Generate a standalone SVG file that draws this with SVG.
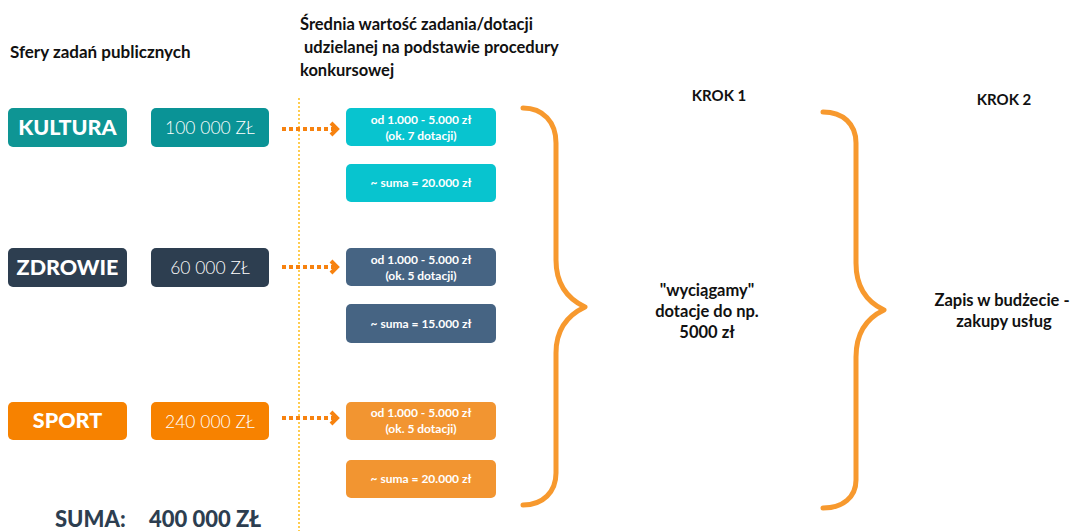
<svg xmlns="http://www.w3.org/2000/svg" width="1076" height="531" viewBox="0 0 1076 531">
<defs>
<style>
.hdr{font-family:"Lato","Liberation Sans",sans-serif;font-weight:700;fill:#111;}
.cat{font-family:"Lato","Liberation Sans",sans-serif;font-weight:900;font-size:21.5px;fill:#fff;text-anchor:middle;}
.val{font-family:"Lato","Liberation Sans",sans-serif;font-weight:300;font-size:17.5px;fill:#fff;text-anchor:middle;}
.sm{font-family:"Lato","Liberation Sans",sans-serif;font-weight:700;font-size:12px;fill:#fff;text-anchor:middle;}
.sum{font-family:"Lato","Liberation Sans",sans-serif;font-weight:900;font-size:22px;fill:#2d3e50;}
.mid{font-family:"Lato","Liberation Sans",sans-serif;font-weight:700;font-size:16.5px;fill:#111;text-anchor:middle;}
.arrow{fill:none;stroke:#f7820f;stroke-width:4;}
.brace{fill:none;stroke:#f7992e;stroke-width:5;stroke-linecap:round;stroke-linejoin:round;}
</style>
</defs>
<rect width="1076" height="531" fill="#fff"/>

<g id="headers">
<text class="hdr" x="10" y="58" font-size="17">Sfery zadań publicznych</text>
<text class="hdr" x="300" y="30" font-size="16.5">Średnia wartość zadania/dotacji</text>
<text class="hdr" x="300" y="53" font-size="16.5" xml:space="preserve"> udzielanej na podstawie procedury</text>
<text class="hdr" x="300" y="76" font-size="16.5">konkursowej</text>
<text class="hdr" x="719" y="101" font-size="15" text-anchor="middle">KROK 1</text>
<text class="hdr" x="1004" y="105" font-size="15" text-anchor="middle">KROK 2</text>
</g>

<line id="divider" x1="299" y1="98" x2="299" y2="531" stroke="#ffc83d" stroke-width="1.8" stroke-dasharray="2 2"/>

<g id="kultura">
<rect x="8" y="108" width="119" height="39" rx="5" fill="#0e9594"/>
<text class="cat" x="67.5" y="135">KULTURA</text>
<rect x="151" y="108" width="118" height="39" rx="5" fill="#0a9396"/>
<text class="val" x="210" y="134">100 000 ZŁ</text>
<rect x="346" y="108" width="150" height="38" rx="5" fill="#08c4cf"/>
<text class="sm" x="421" y="124">od 1.000 - 5.000 zł</text>
<text class="sm" x="421" y="140">(ok. 7 dotacji)</text>
<rect x="346" y="164" width="150" height="38" rx="5" fill="#08c4cf"/>
<text class="sm" x="421" y="187">~ suma = 20.000 zł</text>
</g>

<g id="zdrowie">
<rect x="8" y="248" width="119" height="39" rx="5" fill="#2d3e50"/>
<text class="cat" x="67.5" y="275">ZDROWIE</text>
<rect x="151" y="248" width="118" height="39" rx="5" fill="#2d3e50"/>
<text class="val" x="210" y="274">60 000 ZŁ</text>
<rect x="346" y="248" width="150" height="38" rx="5" fill="#466483"/>
<text class="sm" x="421" y="264">od 1.000 - 5.000 zł</text>
<text class="sm" x="421" y="280">(ok. 5 dotacji)</text>
<rect x="346" y="304" width="150" height="39" rx="5" fill="#466483"/>
<text class="sm" x="421" y="328">~ suma = 15.000 zł</text>
</g>

<g id="sport">
<rect x="8" y="402" width="119" height="38" rx="5" fill="#f78200"/>
<text class="cat" x="67.5" y="428">SPORT</text>
<rect x="151" y="402" width="118" height="38" rx="5" fill="#f78200"/>
<text class="val" x="210" y="428">240 000 ZŁ</text>
<rect x="346" y="402" width="150" height="38" rx="5" fill="#f29531"/>
<text class="sm" x="421" y="417">od 1.000 - 5.000 zł</text>
<text class="sm" x="421" y="433">(ok. 5 dotacji)</text>
<rect x="346" y="460" width="150" height="38" rx="5" fill="#f29531"/>
<text class="sm" x="421" y="483">~ suma = 20.000 zł</text>
</g>

<g id="suma">
<text class="sum" x="55" y="527">SUMA:</text>
<text class="sum" x="149" y="527" font-size="22.5">400 000 ZŁ</text>
</g>

<g id="connectors">
<line class="arrow" x1="282" y1="129" x2="334" y2="129" stroke-dasharray="4 3"/>
<polyline class="arrow" points="331,123 337,129 331,135" stroke-width="3.5"/>
<line class="arrow" x1="282" y1="267" x2="334" y2="267" stroke-dasharray="4 3"/>
<polyline class="arrow" points="331,261 337,267 331,273" stroke-width="3.5"/>
<line class="arrow" x1="282" y1="418" x2="334" y2="418" stroke-dasharray="4 3"/>
<polyline class="arrow" points="331,412 337,418 331,424" stroke-width="3.5"/>
<path class="brace" d="M523,108 C543,108 556,122 556,143 L556,260 C556,285 568,299 585,307 C568,315 556,329 556,353 L556,473 C556,492 543,505 523,505"/>
<path class="brace" d="M823,112 C843,112 856,124 856,143 L856,263 C856,288 867,302 884,310 C867,318 856,333 856,357 L856,480 C856,497 843,508 823,508"/>
</g>

<g id="krok1-text">
<text class="mid" x="707" y="296">"wyciągamy"</text>
<text class="mid" x="707" y="317">dotacje do np.</text>
<text class="mid" x="707" y="338">5000 zł</text>
</g>

<g id="krok2-text">
<text class="mid" x="1002" y="306">Zapis w budżecie -</text>
<text class="mid" x="1004" y="327">zakupy usług</text>
</g>
</svg>
